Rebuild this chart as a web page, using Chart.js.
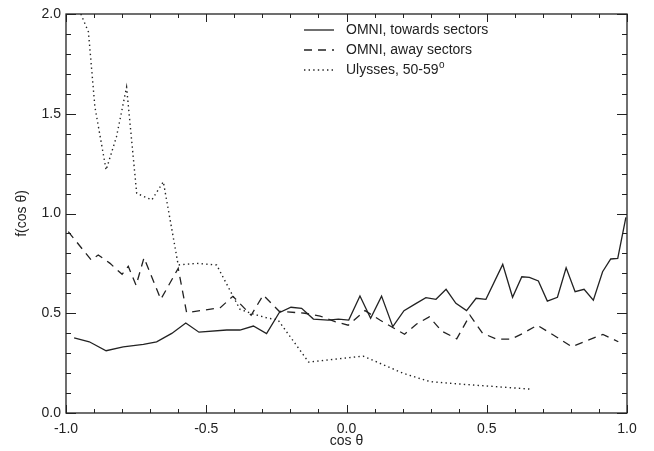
<!DOCTYPE html>
<html>
<head>
<meta charset="utf-8">
<script src="https://cdn.jsdelivr.net/npm/chart.js@4"></script>
<style>
  body { margin: 0; background: #fff; }
  #wrap { width: 654px; height: 451px; }
</style>
</head>
<body>
<div id="wrap"><canvas id="fChart" width="654" height="451"></canvas></div>
<script>
// values (cos theta, f)
const towardsX = [-0.971, -0.917, -0.857, -0.796, -0.724, -0.677, -0.623, -0.573, -0.526, -0.427, -0.380, -0.332, -0.285, -0.240, -0.198, -0.160, -0.118, -0.065, -0.029, 0.008, 0.048, 0.086, 0.125, 0.165, 0.205, 0.244, 0.283, 0.319, 0.355, 0.390, 0.428, 0.462, 0.497, 0.557, 0.592, 0.625, 0.652, 0.684, 0.716, 0.752, 0.783, 0.815, 0.847, 0.880, 0.913, 0.942, 0.967, 0.996];
const towardsY = [0.376, 0.357, 0.312, 0.331, 0.344, 0.357, 0.399, 0.451, 0.405, 0.416, 0.416, 0.436, 0.398, 0.503, 0.530, 0.525, 0.471, 0.466, 0.471, 0.466, 0.586, 0.475, 0.586, 0.433, 0.513, 0.546, 0.578, 0.570, 0.620, 0.550, 0.513, 0.575, 0.570, 0.745, 0.580, 0.683, 0.680, 0.662, 0.561, 0.580, 0.728, 0.608, 0.620, 0.566, 0.708, 0.772, 0.775, 0.980];

const awayX = [-0.992, -0.910, -0.885, -0.843, -0.800, -0.778, -0.750, -0.722, -0.662, -0.600, -0.570, -0.450, -0.405, -0.340, -0.297, -0.240, -0.148, -0.094, -0.041, 0.006, 0.066, 0.119, 0.180, 0.207, 0.250, 0.295, 0.340, 0.393, 0.440, 0.485, 0.535, 0.586, 0.630, 0.680, 0.750, 0.803, 0.856, 0.914, 0.969];
const awayY = [0.909, 0.767, 0.792, 0.750, 0.695, 0.735, 0.640, 0.778, 0.570, 0.725, 0.503, 0.528, 0.585, 0.490, 0.591, 0.510, 0.500, 0.486, 0.458, 0.440, 0.513, 0.466, 0.416, 0.395, 0.446, 0.482, 0.410, 0.372, 0.490, 0.400, 0.370, 0.370, 0.400, 0.440, 0.380, 0.332, 0.362, 0.394, 0.357];

const ulyssesX = [-0.947, -0.920, -0.897, -0.857, -0.820, -0.784, -0.748, -0.694, -0.653, -0.600, -0.534, -0.463, -0.380, -0.332, -0.279, -0.245, -0.135, -0.060, 0.060, 0.202, 0.298, 0.405, 0.652];
const ulyssesY = [2.00, 1.91, 1.535, 1.218, 1.385, 1.633, 1.101, 1.068, 1.159, 0.742, 0.750, 0.742, 0.520, 0.496, 0.475, 0.468, 0.255, 0.267, 0.285, 0.199, 0.157, 0.145, 0.120];

const seriesNames = ['OMNI, towards sectors', 'OMNI, away sectors', 'Ulysses, 50-59'];

const xTicks = [-1.0, -0.5, 0.0, 0.5, 1.0];
const yTicks = [0.0, 0.5, 1.0, 1.5, 2.0];

const ink = '#222';
const FONT = '"Liberation Sans", Arial, sans-serif';

function toPoints(xs, ys) {
    return xs.map((x, i) => ({ x: x, y: ys[i] }));
}

// box, inward ticks on all four sides, and the legend inside the plot
const framePlugin = {
    id: 'frame',
    afterDatasetsDraw(chart) {
        const { ctx, chartArea: a, scales: { x, y } } = chart;
        ctx.save();
        ctx.strokeStyle = ink;
        ctx.lineWidth = 1.3;
        ctx.strokeRect(a.left, a.top, a.right - a.left, a.bottom - a.top);

        ctx.lineWidth = 1;
        ctx.beginPath();
        for (let i = 0; i <= 20; i++) {
            const px = Math.round(x.getPixelForValue(-1 + i * 0.1)) + 0.5;
            const len = i % 5 === 0 ? 8 : 4;
            ctx.moveTo(px, a.bottom); ctx.lineTo(px, a.bottom - len);
            ctx.moveTo(px, a.top); ctx.lineTo(px, a.top + len);
        }
        for (let i = 0; i <= 20; i++) {
            const py = Math.round(y.getPixelForValue(i * 0.1)) + 0.5;
            const len = i % 5 === 0 ? 10 : 5;
            ctx.moveTo(a.left, py); ctx.lineTo(a.left + len, py);
            ctx.moveTo(a.right, py); ctx.lineTo(a.right - len, py);
        }
        ctx.stroke();

        // legend
        ctx.font = '14px ' + FONT;
        ctx.fillStyle = ink;
        ctx.textBaseline = 'middle';
        chart.data.datasets.forEach((ds, i) => {
            const ly = 30 + i * 20;
            ctx.beginPath();
            ctx.setLineDash(ds.borderDash || []);
            ctx.lineWidth = ds.borderWidth;
            ctx.moveTo(304, ly); ctx.lineTo(334, ly);
            ctx.stroke();
            ctx.setLineDash([]);
            ctx.fillText(ds.label, 346, ly);
            if (i === 2) {
                const w = ctx.measureText(ds.label).width;
                ctx.font = '10px ' + FONT;
                ctx.fillText('o', 346 + w + 0.5, ly - 5);
                ctx.font = '14px ' + FONT;
            }
        });
        ctx.restore();
    }
};

document.addEventListener('DOMContentLoaded', function () {
    Chart.defaults.font.family = FONT;
    Chart.defaults.font.size = 14;
    Chart.defaults.color = ink;

    const lineStyle = { showLine: true, pointRadius: 0, borderColor: ink, tension: 0, fill: false };

    new Chart(document.getElementById('fChart'), {
        type: 'scatter',
        data: {
            datasets: [
                Object.assign({ label: seriesNames[0], data: toPoints(towardsX, towardsY), borderWidth: 1.3, borderDash: [] }, lineStyle),
                Object.assign({ label: seriesNames[1], data: toPoints(awayX, awayY), borderWidth: 1.3, borderDash: [8, 6] }, lineStyle),
                Object.assign({ label: seriesNames[2], data: toPoints(ulyssesX, ulyssesY), borderWidth: 1.4, borderDash: [1.4, 3.2] }, lineStyle)
            ]
        },
        options: {
            responsive: false,
            animation: false,
            layout: { padding: { top: 14, right: 27, left: 0, bottom: 0 } },
            plugins: {
                legend: { display: false },
                tooltip: { enabled: false }
            },
            scales: {
                x: {
                    type: 'linear',
                    min: -1, max: 1,
                    afterBuildTicks: s => { s.ticks = xTicks.map(v => ({ value: v })); },
                    afterFit: s => { s.height = 38; },
                    ticks: { callback: v => v.toFixed(1), padding: 8, maxRotation: 0 },
                    grid: { display: false, drawTicks: false },
                    border: { display: false },
                    title: { display: true, text: 'cos θ', padding: { top: 0, bottom: 1 } }
                },
                y: {
                    min: 0, max: 2,
                    afterBuildTicks: s => { s.ticks = yTicks.map(v => ({ value: v })); },
                    afterFit: s => { s.width = 66; },
                    ticks: { callback: v => v.toFixed(1), padding: 5 },
                    grid: { display: false, drawTicks: false },
                    border: { display: false },
                    title: { display: true, text: 'f(cos θ)', padding: { top: 14, bottom: 0 } }
                }
            }
        },
        plugins: [framePlugin]
    });
});
</script>
</body>
</html>
